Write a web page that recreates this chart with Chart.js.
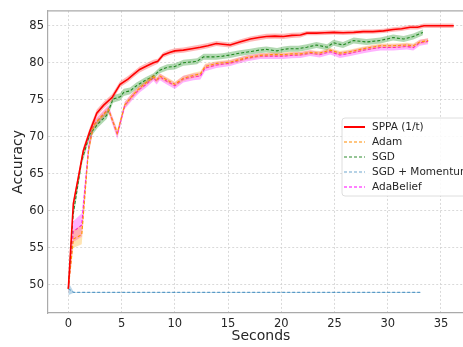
<!DOCTYPE html>
<html>
<head>
<meta charset="utf-8">
<script src="https://cdn.jsdelivr.net/npm/chart.js@4.4.0/dist/chart.umd.min.js"></script>
<style>
    html, body { margin: 0; padding: 0; background: #fff; overflow: hidden; }
    #wrap { width: 463px; height: 347px; overflow: hidden; }
    #wrap canvas { display: block; }
</style>
</head>
<body>
<div id="wrap"><canvas id="accuracy__chart" width="480" height="347"></canvas></div>
<script>
var seriesNames = ['SPPA (1/t)', 'Adam', 'SGD', 'SGD + Momentum', 'AdaBelief'];

var sppaX = [0, 0.47, 1.0, 1.4, 2.0, 2.67, 3.3, 4.1, 4.86, 5.6, 6.1, 6.7, 7.4, 8.0, 8.4, 8.9, 9.5, 10.0, 10.8, 11.6, 12.4, 13.1, 13.9, 14.5, 15.2, 16.1, 17.1, 17.9, 18.6, 19.4, 20.2, 21.0, 21.8, 22.4, 23.3, 24.1, 24.9, 25.8, 26.8, 27.7, 28.6, 29.6, 30.5, 31.3, 32.1, 32.8, 33.4, 34.3, 35.3, 36.2];
var sppaY = [49.5, 61.0, 65.0, 68.1, 70.7, 73.2, 74.25, 75.3, 77.1, 77.8, 78.4, 79.1, 79.6, 80.0, 80.2, 81.05, 81.4, 81.6, 81.7, 81.9, 82.1, 82.3, 82.6, 82.5, 82.4, 82.8, 83.2, 83.4, 83.55, 83.6, 83.55, 83.7, 83.75, 84.0, 84.0, 84.05, 84.1, 84.05, 84.1, 84.2, 84.2, 84.3, 84.5, 84.6, 84.8, 84.8, 85.0, 85.0, 85.0, 85.0];
var sppaStd = [0.4, 0.5, 0.5, 0.5, 0.5, 0.5, 0.45, 0.45, 0.4, 0.4, 0.4, 0.4, 0.4, 0.4, 0.35, 0.35, 0.35, 0.35, 0.35, 0.35, 0.35, 0.35, 0.35, 0.35, 0.35, 0.35, 0.35, 0.35, 0.35, 0.35, 0.35, 0.35, 0.35, 0.3, 0.3, 0.3, 0.3, 0.3, 0.3, 0.3, 0.3, 0.3, 0.3, 0.3, 0.3, 0.3, 0.3, 0.3, 0.3, 0.3];

var sgdX = [0, 0.45, 1.26, 2.0, 2.8, 3.6, 4.2, 4.86, 5.2, 5.8, 6.4, 7.2, 8.0, 8.6, 9.3, 10.0, 10.8, 11.5, 12.1, 12.7, 13.3, 13.9, 14.5, 15.2, 16.1, 17.1, 17.9, 18.6, 19.6, 20.2, 20.8, 21.6, 22.4, 23.3, 24.3, 24.9, 25.8, 26.8, 28.0, 29.3, 30.5, 31.5, 32.4, 33.3];
var sgdY = [49.5, 59.5, 66.8, 70.3, 71.8, 72.9, 75.1, 75.4, 76.0, 76.2, 76.9, 77.6, 78.2, 79.0, 79.4, 79.5, 80.0, 80.1, 80.2, 80.8, 80.8, 80.8, 80.9, 81.05, 81.3, 81.5, 81.7, 81.8, 81.6, 81.8, 81.9, 81.9, 82.1, 82.4, 82.1, 82.7, 82.4, 83.0, 82.8, 83.0, 83.4, 83.2, 83.55, 84.1];
var sgdStd = [0.4, 0.6, 0.6, 0.5, 0.5, 0.5, 0.5, 0.5, 0.5, 0.45, 0.45, 0.4, 0.4, 0.4, 0.4, 0.4, 0.4, 0.4, 0.4, 0.4, 0.4, 0.4, 0.4, 0.4, 0.4, 0.4, 0.4, 0.4, 0.4, 0.4, 0.4, 0.4, 0.4, 0.4, 0.4, 0.4, 0.4, 0.4, 0.4, 0.4, 0.4, 0.4, 0.4, 0.4];

var momX = [0, 0.5, 33.1];
var momY = [49.5, 49.0, 49.0];
var momStd = [0.9, 0.05, 0.05];

// Adam and AdaBelief were logged on the same timestamps
var adaX = [0, 0.47, 1.26, 1.9, 2.35, 3.0, 3.76, 4.6, 5.3, 6.1, 6.7, 7.4, 8.0, 8.3, 8.6, 9.25, 10.0, 10.8, 11.75, 12.4, 12.85, 13.9, 15.2, 16.0, 16.8, 18.0, 19.1, 20.2, 21.0, 21.8, 22.7, 23.6, 24.6, 25.5, 26.5, 27.7, 28.5, 29.3, 30.5, 31.8, 32.4, 33.0, 33.8];
var adaY = [49.5, 57.2, 58.1, 68.5, 71.6, 72.6, 73.8, 70.3, 74.25, 75.6, 76.45, 77.2, 78.0, 77.5, 78.1, 77.5, 76.9, 77.8, 78.1, 78.2, 79.3, 79.7, 79.95, 80.3, 80.6, 80.9, 80.9, 80.9, 81.0, 81.05, 81.3, 81.1, 81.5, 81.05, 81.3, 81.7, 81.9, 82.05, 82.05, 82.2, 82.05, 82.7, 82.9];
var adaStd = [0.7, 1.4, 1.6, 0.8, 0.6, 0.5, 0.5, 0.6, 0.5, 0.5, 0.45, 0.45, 0.45, 0.45, 0.45, 0.45, 0.45, 0.45, 0.45, 0.45, 0.45, 0.4, 0.4, 0.4, 0.4, 0.4, 0.4, 0.4, 0.4, 0.4, 0.4, 0.4, 0.4, 0.4, 0.4, 0.4, 0.4, 0.4, 0.4, 0.4, 0.4, 0.4, 0.4];
var adamY = [49.5, 56.2, 56.8, 68.2, 71.5, 72.6, 73.7, 70.5, 74.3, 75.7, 76.6, 77.4, 78.1, 77.7, 78.2, 77.7, 77.1, 77.9, 78.3, 78.5, 79.5, 79.9, 80.1, 80.4, 80.7, 81.0, 81.1, 81.1, 81.2, 81.2, 81.4, 81.3, 81.7, 81.3, 81.5, 81.9, 82.1, 82.3, 82.3, 82.4, 82.3, 82.8, 83.0];
var adamStd = [0.6, 1.2, 1.3, 0.7, 0.5, 0.4, 0.4, 0.5, 0.4, 0.4, 0.35, 0.35, 0.35, 0.35, 0.35, 0.35, 0.35, 0.35, 0.35, 0.35, 0.35, 0.3, 0.3, 0.3, 0.3, 0.3, 0.3, 0.3, 0.3, 0.3, 0.3, 0.3, 0.3, 0.3, 0.3, 0.3, 0.3, 0.3, 0.3, 0.3, 0.3, 0.3, 0.3];

var xTicks = [0, 5, 10, 15, 20, 25, 30, 35];
var yTicks = [50, 55, 60, 65, 70, 75, 80, 85];

var FONT = 'DejaVu Sans';

function pts(xs, ys, shift, sign) {
    return xs.map(function (x, i) {
        return {x: x, y: ys[i] + (shift ? sign * shift[i] : 0)};
    });
}

var styles = [
    {x: sppaX, y: sppaY, s: sppaStd, color: '#ff0000', band: 'rgba(255,0,0,0.28)', dash: [], width: 1.6},
    {x: adaX, y: adamY, s: adamStd, color: '#ff8c00', band: 'rgba(255,165,0,0.3)', dash: [3, 2], width: 1.1},
    {x: sgdX, y: sgdY, s: sgdStd, color: '#2e8b2e', band: 'rgba(0,128,0,0.3)', dash: [3, 2], width: 1.1},
    {x: momX, y: momY, s: momStd, color: 'rgba(31,119,180,0.65)', band: 'rgba(31,119,180,0.3)', dash: [3, 2], width: 1.1},
    {x: adaX, y: adaY, s: adaStd, color: '#ff00ff', band: 'rgba(255,0,255,0.3)', dash: [3, 2], width: 1.1}
];

var datasets = [];
styles.forEach(function (st, k) {
    datasets.push({
        label: '_up' + k, data: pts(st.x, st.y, st.s, 1),
        borderWidth: 0, pointRadius: 0, fill: '+1', backgroundColor: st.band
    });
    datasets.push({
        label: '_lo' + k, data: pts(st.x, st.y, st.s, -1),
        borderWidth: 0, pointRadius: 0, fill: false
    });
    datasets.push({
        label: seriesNames[k], data: pts(st.x, st.y),
        borderColor: st.color, borderWidth: st.width, borderDash: st.dash,
        pointRadius: 0, fill: false, tension: 0
    });
});

var frameAndLegend = {
    id: 'frameAndLegend',
    afterDraw: function (chart) {
        var ctx = chart.ctx, a = chart.chartArea;
        ctx.save();
        // top spine
        ctx.strokeStyle = '#aaaaaa';
        ctx.lineWidth = 1.2;
        ctx.beginPath();
        ctx.moveTo(a.left, a.top);
        ctx.lineTo(a.right, a.top);
        ctx.stroke();

        // legend box
        var bx = 342, by = 118, bw = 140, bh = 78, r = 3;
        ctx.beginPath();
        ctx.moveTo(bx + r, by);
        ctx.lineTo(bx + bw - r, by);
        ctx.arcTo(bx + bw, by, bx + bw, by + r, r);
        ctx.lineTo(bx + bw, by + bh - r);
        ctx.arcTo(bx + bw, by + bh, bx + bw - r, by + bh, r);
        ctx.lineTo(bx + r, by + bh);
        ctx.arcTo(bx, by + bh, bx, by + bh - r, r);
        ctx.lineTo(bx, by + r);
        ctx.arcTo(bx, by, bx + r, by, r);
        ctx.closePath();
        ctx.fillStyle = 'rgba(255,255,255,0.85)';
        ctx.fill();
        ctx.strokeStyle = '#d6d6d6';
        ctx.lineWidth = 0.8;
        ctx.stroke();

        ctx.font = '10.5px "' + FONT + '"';
        ctx.textBaseline = 'middle';
        ctx.fillStyle = '#262626';
        seriesNames.forEach(function (name, k) {
            var yy = by + 9 + k * 15;
            ctx.strokeStyle = styles[k].color;
            ctx.lineWidth = k === 0 ? 2 : 1.2;
            ctx.setLineDash(styles[k].dash);
            ctx.beginPath();
            ctx.moveTo(bx + 2, yy);
            ctx.lineTo(bx + 23, yy);
            ctx.stroke();
            ctx.setLineDash([]);
            ctx.fillText(name, bx + 30, yy + 0.5);
        });
        ctx.restore();
    }
};

var ctx = document.getElementById('accuracy__chart').getContext('2d');
var accChart = new Chart(ctx, {
    type: 'line',
    data: {datasets: datasets},
    options: {
        responsive: false,
        animation: false,
        layout: {padding: {top: 3, right: 6, left: 0, bottom: 0}},
        plugins: {
            legend: {display: false},
            tooltip: {enabled: false},
            filler: {propagate: false}
        },
        scales: {
            x: {
                type: 'linear',
                min: -1.91, max: 38.1,
                afterFit: function (scale) { scale.height = 34; },
                afterBuildTicks: function (scale) {
                    scale.ticks = xTicks.map(function (v) { return {value: v}; });
                },
                grid: {color: '#d0d0d0', lineWidth: 0.8, drawTicks: false},
                border: {color: '#aaaaaa', width: 1.2, dash: [2, 2]},
                ticks: {
                    padding: 4, color: '#262626', maxRotation: 0,
                    font: {family: FONT, size: 11.5}
                },
                title: {
                    display: true, text: 'Seconds', color: '#262626',
                    font: {family: FONT, size: 14}, padding: {top: 0, bottom: 2}
                }
            },
            y: {
                min: 46.22, max: 87.0,
                afterFit: function (scale) { scale.width = 48; },
                afterBuildTicks: function (scale) {
                    scale.ticks = yTicks.map(function (v) { return {value: v}; });
                },
                grid: {color: '#d0d0d0', lineWidth: 0.8, drawTicks: false},
                border: {color: '#aaaaaa', width: 1.2, dash: [2, 2]},
                ticks: {
                    padding: 4, color: '#262626',
                    font: {family: FONT, size: 11.5}
                },
                title: {
                    display: true, text: 'Accuracy', color: '#262626',
                    font: {family: FONT, size: 14}, padding: {top: 10, bottom: 0}
                }
            }
        }
    },
    plugins: [frameAndLegend]
});
</script>
</body>
</html>
